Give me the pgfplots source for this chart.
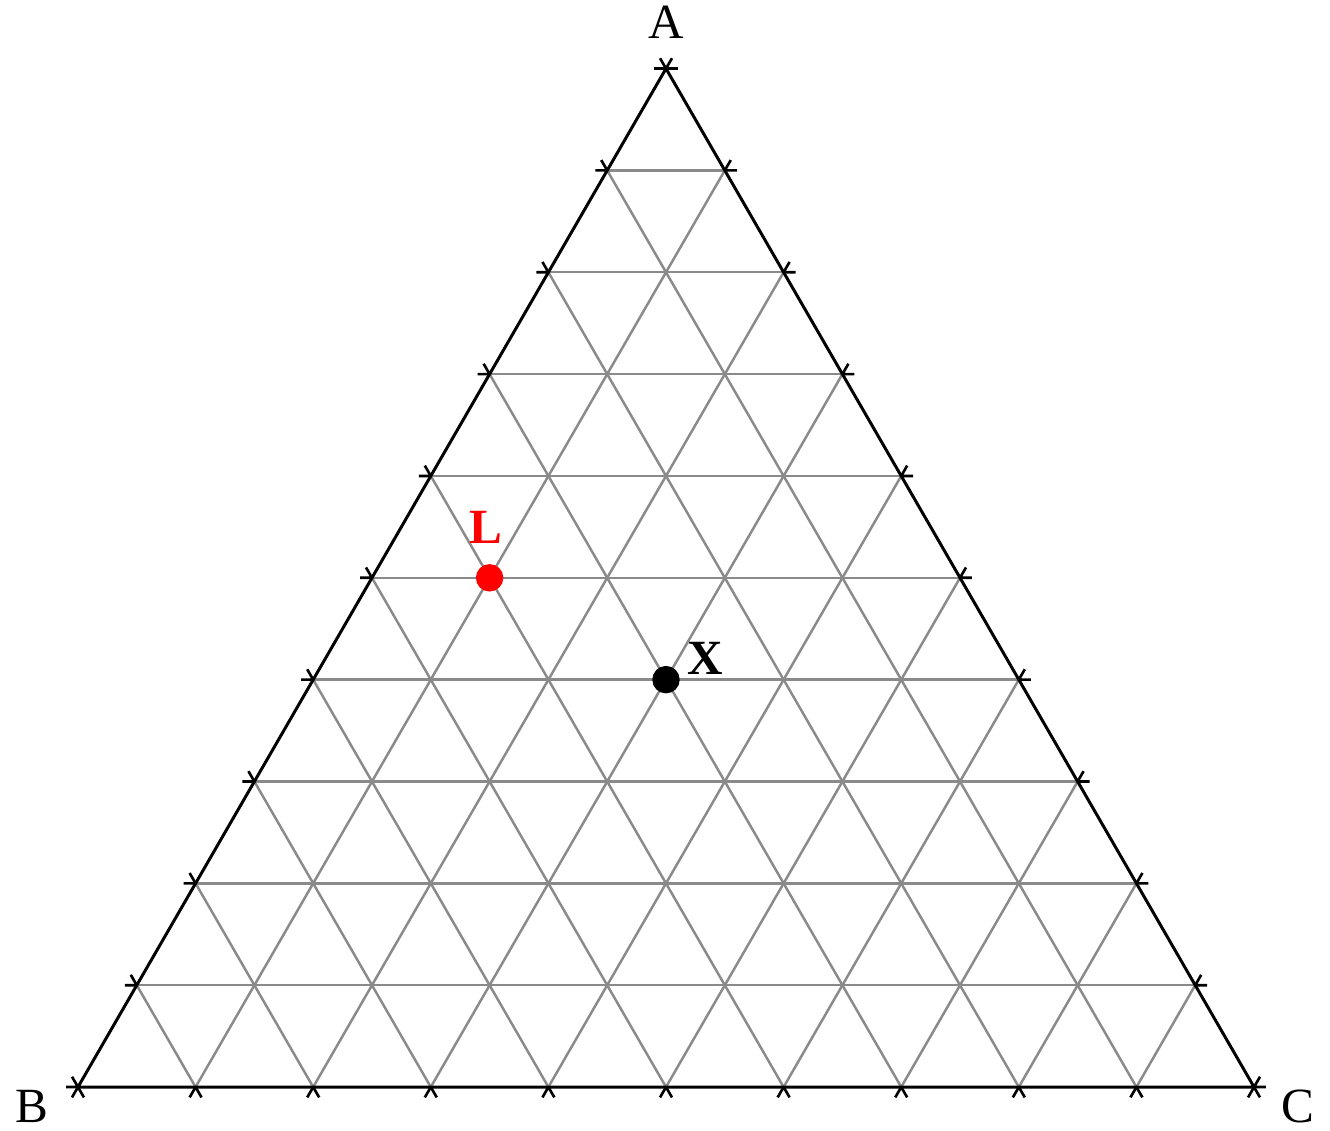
\documentclass[border=0pt]{standalone}
\usepackage{pgfplots}
\pgfplotsset{compat=1.18}
\usepackage{fontspec}
\setmainfont{Liberation Serif}

% short tick strokes where grid lines leave the triangle
\pgfdeclareplotmark{tickl}{%
  \pgfpathmoveto{\pgfpoint{-\pgfplotmarksize}{0pt}}%
  \pgfpathlineto{\pgfpointorigin}%
  \pgfpathlineto{\pgfpointpolar{120}{\pgfplotmarksize}}%
  \pgfusepathqstroke}
\pgfdeclareplotmark{tickr}{%
  \pgfpathmoveto{\pgfpoint{\pgfplotmarksize}{0pt}}%
  \pgfpathlineto{\pgfpointorigin}%
  \pgfpathlineto{\pgfpointpolar{60}{\pgfplotmarksize}}%
  \pgfusepathqstroke}
\pgfdeclareplotmark{tickb}{%
  \pgfpathmoveto{\pgfpointpolar{240}{\pgfplotmarksize}}%
  \pgfpathlineto{\pgfpointorigin}%
  \pgfpathlineto{\pgfpointpolar{300}{\pgfplotmarksize}}%
  \pgfusepathqstroke}

\definecolor{gridgray}{HTML}{8A8A8A}

\begin{document}
\begin{tikzpicture}
\begin{axis}[
    x=11.76cm, y=11.76cm,
    scale only axis,
    xmin=-0.0663, xmax=1.0646,
    ymin=-0.0366, ymax=0.9243,
    hide axis,
    clip=false,
    every axis plot/.append style={line join=round},
]
\path (rel axis cs:0,0) rectangle (rel axis cs:1,1);

% --- grid: constant A (horizontal) ---
\pgfplotsset{grid line/.style={gridgray, line width=0.7pt, forget plot}}
\addplot[grid line] coordinates {(0.05,0.0866) (0.95,0.0866)};
\addplot[grid line] coordinates {(0.10,0.1732) (0.90,0.1732)};
\addplot[grid line] coordinates {(0.15,0.2598) (0.85,0.2598)};
\addplot[grid line] coordinates {(0.20,0.3464) (0.80,0.3464)};
\addplot[grid line] coordinates {(0.25,0.4330) (0.75,0.4330)};
\addplot[grid line] coordinates {(0.30,0.5196) (0.70,0.5196)};
\addplot[grid line] coordinates {(0.35,0.6062) (0.65,0.6062)};
\addplot[grid line] coordinates {(0.40,0.6928) (0.60,0.6928)};
\addplot[grid line] coordinates {(0.45,0.7794) (0.55,0.7794)};
% --- grid: constant C ---
\addplot[grid line] coordinates {(0.1,0) (0.55,0.7794)};
\addplot[grid line] coordinates {(0.2,0) (0.60,0.6928)};
\addplot[grid line] coordinates {(0.3,0) (0.65,0.6062)};
\addplot[grid line] coordinates {(0.4,0) (0.70,0.5196)};
\addplot[grid line] coordinates {(0.5,0) (0.75,0.4330)};
\addplot[grid line] coordinates {(0.6,0) (0.80,0.3464)};
\addplot[grid line] coordinates {(0.7,0) (0.85,0.2598)};
\addplot[grid line] coordinates {(0.8,0) (0.90,0.1732)};
\addplot[grid line] coordinates {(0.9,0) (0.95,0.0866)};
% --- grid: constant B ---
\addplot[grid line] coordinates {(0.9,0) (0.45,0.7794)};
\addplot[grid line] coordinates {(0.8,0) (0.40,0.6928)};
\addplot[grid line] coordinates {(0.7,0) (0.35,0.6062)};
\addplot[grid line] coordinates {(0.6,0) (0.30,0.5196)};
\addplot[grid line] coordinates {(0.5,0) (0.25,0.4330)};
\addplot[grid line] coordinates {(0.4,0) (0.20,0.3464)};
\addplot[grid line] coordinates {(0.3,0) (0.15,0.2598)};
\addplot[grid line] coordinates {(0.2,0) (0.10,0.1732)};
\addplot[grid line] coordinates {(0.1,0) (0.05,0.0866)};

% --- triangle ---
\addplot[black, line width=0.85pt] coordinates {(0,0) (1,0) (0.5,0.8660) (0,0)};

% --- ticks ---
\pgfplotsset{tick set/.style={only marks, mark size=3.4pt, mark options={black, line width=0.75pt}}}
\addplot[tick set, mark=tickl]
coordinates {(0,0) (0.05,0.0866) (0.10,0.1732) (0.15,0.2598) (0.20,0.3464) (0.25,0.4330)
             (0.30,0.5196) (0.35,0.6062) (0.40,0.6928) (0.45,0.7794) (0.5,0.8660)};
\addplot[tick set, mark=tickr]
coordinates {(1,0) (0.95,0.0866) (0.90,0.1732) (0.85,0.2598) (0.80,0.3464) (0.75,0.4330)
             (0.70,0.5196) (0.65,0.6062) (0.60,0.6928) (0.55,0.7794) (0.5,0.8660)};
\addplot[tick set, mark=tickb]
coordinates {(0,0) (0.1,0) (0.2,0) (0.3,0) (0.4,0) (0.5,0) (0.6,0) (0.7,0) (0.8,0) (0.9,0) (1,0)};

% --- points ---
\addplot[only marks, mark=*, mark size=3.7pt, red] coordinates {(0.35,0.4330)};
\addplot[only marks, mark=*, mark size=3.7pt, black] coordinates {(0.5,0.3464)};

% --- labels ---
\tikzset{lbl/.style={inner sep=0pt, font=\fontsize{14}{16}\selectfont}}
\node[lbl] at (axis cs:0.5,0.9056) {A};
\node[lbl] at (axis cs:-0.039,-0.0165) {B};
\node[lbl] at (axis cs:1.0374,-0.0165) {C};
\node[lbl, font=\fontsize{14}{16}\selectfont\bfseries, red] at (axis cs:0.347,0.476) {L};
\node[lbl, font=\fontsize{14}{16}\selectfont\bfseries] at (axis cs:0.533,0.3648) {X};
\end{axis}
\end{tikzpicture}
\end{document}
